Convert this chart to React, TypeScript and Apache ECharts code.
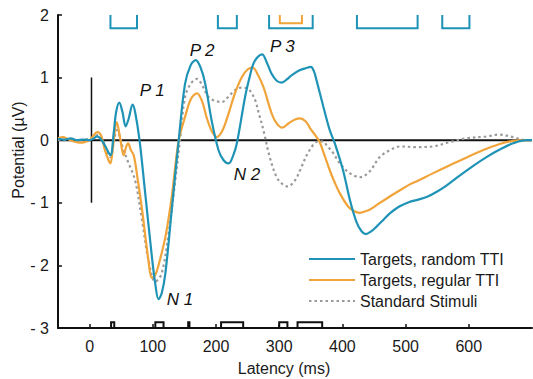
import React, { useEffect, useRef } from "react";
import * as echarts from "echarts";

// ---- data (latency in ms, potential in µV) ----
const latencyRandom = [-50, -40, -30, -20, -10, 0, 5, 12, 19, 26, 33, 38, 42, 47, 52, 57, 62, 68, 72, 79, 88, 98, 104, 109, 114, 120, 130, 141, 151, 160, 168, 176, 183, 193, 204, 212, 220, 227, 233, 246, 253, 259, 266, 273, 280, 288, 296, 304, 312, 320, 333, 342, 350, 355, 359, 370, 380, 388, 401, 412, 422, 430, 437, 445, 454, 465, 475, 490, 505, 520, 535, 550, 564, 585, 607, 628, 649, 670, 691, 700];
const randomTTI = [0.02, 0.01, 0.03, 0.0, 0.01, 0.0, 0.02, 0.06, 0.0, -0.12, -0.24, 0.1, 0.45, 0.6, 0.45, 0.22, 0.35, 0.57, 0.45, 0.0, -0.85, -1.81, -2.3, -2.54, -2.45, -2.12, -1.11, 0.0, 0.9, 1.2, 1.28, 1.15, 0.9, 0.32, -0.16, -0.32, -0.37, -0.25, -0.05, 0.69, 1.0, 1.22, 1.33, 1.37, 1.25, 1.06, 0.95, 0.92, 0.97, 1.04, 1.12, 1.15, 1.17, 1.1, 0.96, 0.53, 0.16, -0.05, -0.48, -0.96, -1.3, -1.45, -1.5, -1.46, -1.38, -1.27, -1.17, -1.06, -0.99, -0.95, -0.9, -0.82, -0.73, -0.57, -0.41, -0.27, -0.15, -0.05, 0.0, 0.0];

const latencyRegular = [-50, -42, -35, -25, -15, -8, 0, 5, 12, 18, 24, 30, 33, 37, 43, 48, 54, 58, 61, 65, 70, 76, 83, 93, 98.5, 104, 109, 120, 130, 141, 151, 160, 170, 178, 185, 193, 201, 210, 220, 230, 241, 250, 258, 266, 275, 288, 296, 305, 315, 325, 333, 342, 349, 357, 364, 372, 380, 388, 396, 409, 418, 427, 435, 443, 458, 475, 491, 506, 517, 543, 570, 596, 622, 649, 670, 691, 700];
const regularTTI = [0.03, 0.05, 0.02, -0.02, -0.04, -0.03, 0.0, 0.06, 0.13, 0.08, -0.15, -0.32, -0.37, -0.1, 0.29, 0.05, -0.24, -0.1, -0.05, -0.15, -0.25, -0.62, -1.11, -1.91, -2.2, -2.15, -2.0, -1.54, -0.9, 0.0, 0.37, 0.65, 0.75, 0.62, 0.37, 0.15, 0.05, 0.15, 0.43, 0.75, 1.01, 1.13, 1.16, 1.05, 0.85, 0.43, 0.27, 0.2, 0.27, 0.33, 0.35, 0.3, 0.19, 0.08, -0.03, -0.25, -0.48, -0.68, -0.85, -1.06, -1.13, -1.16, -1.14, -1.11, -1.01, -0.9, -0.8, -0.71, -0.66, -0.53, -0.4, -0.28, -0.16, -0.06, -0.01, 0.0, 0.0];

const latencyStandard = [-50, -20, 0, 7, 13, 20, 27, 33, 38, 43, 48, 53, 61, 72, 83, 93, 104, 114, 125, 135, 143, 151, 160, 170, 178, 188, 198, 209, 220, 230, 240, 251, 257, 262, 268, 275, 285, 296, 305, 314, 322, 328, 333, 348, 362, 370, 375, 385, 396, 412, 428, 443, 459, 475, 491, 517, 543, 570, 596, 628, 648, 670, 691, 700];
const standard = [0.0, 0.0, 0.02, 0.04, 0.08, 0.02, -0.15, -0.27, -0.05, 0.16, 0.05, -0.13, -0.35, -0.64, -1.28, -1.91, -2.26, -2.13, -1.49, -0.69, 0.0, 0.69, 0.9, 0.98, 0.88, 0.69, 0.63, 0.61, 0.7, 0.8, 0.84, 0.82, 0.74, 0.64, 0.42, 0.16, -0.27, -0.59, -0.7, -0.74, -0.68, -0.59, -0.48, -0.16, -0.02, -0.02, -0.08, -0.2, -0.37, -0.53, -0.59, -0.5, -0.27, -0.16, -0.1, -0.11, -0.1, -0.03, 0.03, 0.06, 0.09, 0.05, 0.0, 0.0];

// significance bars [start ms, end ms]
const sigRandomTop = [[33, 75], [203, 233], [284, 353], [423, 519], [558, 601]];
const sigRegularTop = [[301, 336]];
const sigStandardBottom = [[34, 39], [104, 117], [156, 158], [208, 243], [300, 313], [329, 368]];

const xTicks = [0, 100, 200, 300, 400, 500, 600];

const peakLabels = ["P 1", "P 2", "P 3", "N 2", "N 1"];
const peakLatency = [99, 178, 305, 249, 143];
const peakPotential = [0.79, 1.44, 1.5, -0.55, -2.55];

const stimulusMarker = [[3, 1], [3, -1]];

const SERIES_NAMES = ["Targets, random TTI", "Targets, regular TTI", "Standard Stimuli"];
const TEAL = "#1f93b6";
const ORANGE = "#f0a43a";
const GRAY = "#9a9a9a";
const FONT = "Liberation Sans, Arial, sans-serif";

const zip = (xs: number[], ys: number[]) => xs.map((x, i) => [x, ys[i]]);

const bracketSeries = (data: number[][], color: string, top: number, bottom: number) => ({
  type: "custom",
  silent: true,
  clip: false,
  z: 5,
  data: data.map(([s, e]) => [s, e, top, bottom]),
  encode: { x: [0, 1], y: [2, 3] },
  renderItem: (_p: any, api: any) => {
    const s = api.value(0), e = api.value(1), t = api.value(2), b = api.value(3);
    const pts = [api.coord([s, t]), api.coord([s, b]), api.coord([e, b]), api.coord([e, t])];
    return { type: "polyline", shape: { points: pts }, style: { stroke: color, lineWidth: 2, fill: null } };
  },
});

export default function App() {
  const ref = useRef<HTMLDivElement>(null);
  useEffect(() => {
    if (!ref.current) return;
    const chart = echarts.init(ref.current, null, { renderer: "svg" });
    chart.setOption({
      animation: false,
      backgroundColor: "#ffffff",
      textStyle: { fontFamily: FONT },
      grid: { left: 58, right: 1, top: 15, bottom: 51 },
      legend: {
        data: SERIES_NAMES,
        orient: "vertical",
        left: 303,
        top: 246,
        itemWidth: 46,
        itemHeight: 10,
        itemGap: 5,
        itemStyle: { opacity: 0 },
        textStyle: { fontSize: 16, color: "#1a1a1a", fontFamily: FONT },
      },
      xAxis: {
        type: "value",
        min: -50,
        max: 700,
        axisLine: { onZero: false, lineStyle: { color: "#111", width: 2 } },
        axisTick: { inside: true, length: 4, customValues: xTicks, lineStyle: { color: "#111", width: 1.5 } },
        axisLabel: { customValues: xTicks, fontSize: 16, color: "#1a1a1a", margin: 10, fontFamily: FONT },
        splitLine: { show: false },
      },
      yAxis: {
        type: "value",
        min: -3,
        max: 2,
        interval: 1,
        axisLine: { show: true, onZero: false, lineStyle: { color: "#111", width: 2 } },
        axisTick: { show: true, inside: true, length: 4, lineStyle: { color: "#111", width: 1.5 } },
        axisLabel: {
          fontSize: 16,
          color: "#1a1a1a",
          margin: 9,
          fontFamily: FONT,
          formatter: (v: number) => (v < 0 ? "- " + Math.abs(v) : String(v)),
        },
        splitLine: { show: false },
      },
      graphic: [
        {
          type: "text",
          x: 18,
          y: 150,
          rotation: Math.PI / 2,
          style: { text: "Potential (µV)", fontSize: 16, fontFamily: FONT, fill: "#1a1a1a", align: "center", verticalAlign: "middle" },
        },
        {
          type: "text",
          x: 284,
          y: 368,
          style: { text: "Latency (ms)", fontSize: 16, fontFamily: FONT, fill: "#1a1a1a", align: "center", verticalAlign: "middle" },
        },
      ],
      series: [
        {
          name: "zero",
          type: "line",
          data: [[-50, 0], [700, 0]],
          symbol: "none",
          silent: true,
          lineStyle: { color: "#111", width: 2 },
          z: 1,
        },
        {
          name: "stim",
          type: "line",
          data: stimulusMarker,
          symbol: "none",
          silent: true,
          lineStyle: { color: "#111", width: 1.5 },
          z: 1,
        },
        {
          name: SERIES_NAMES[2],
          type: "line",
          data: zip(latencyStandard, standard),
          smooth: 0.35,
          symbol: "none",
          lineStyle: { color: GRAY, width: 2.2, type: [2.5, 3] },
          itemStyle: { color: GRAY },
          z: 2,
        },
        {
          name: SERIES_NAMES[1],
          type: "line",
          data: zip(latencyRegular, regularTTI),
          smooth: 0.35,
          symbol: "none",
          lineStyle: { color: ORANGE, width: 2.2 },
          itemStyle: { color: ORANGE },
          z: 3,
        },
        {
          name: SERIES_NAMES[0],
          type: "line",
          data: zip(latencyRandom, randomTTI),
          smooth: 0.35,
          symbol: "none",
          lineStyle: { color: TEAL, width: 2.2 },
          itemStyle: { color: TEAL },
          z: 4,
        },
        bracketSeries(sigRandomTop, TEAL, 2, 1.79),
        bracketSeries(sigRegularTop, ORANGE, 2, 1.87),
        bracketSeries(sigStandardBottom, "#111", -3, -2.91),
        {
          type: "custom",
          silent: true,
          clip: false,
          z: 6,
          data: peakLatency.map((x, i) => [x, peakPotential[i]]),
          renderItem: (params: any, api: any) => {
            const p = api.coord([api.value(0), api.value(1)]);
            return {
              type: "text",
              x: p[0],
              y: p[1],
              style: {
                text: peakLabels[params.dataIndex],
                fontSize: 17,
                fontStyle: "italic",
                fontFamily: FONT,
                fill: "#111",
                align: "center",
                verticalAlign: "middle",
              },
            };
          },
        },
      ],
    });
    return () => chart.dispose();
  }, []);
  return <div ref={ref} style={{ position: "fixed", left: 0, top: 0, width: 533, height: 379 }} />;
}
